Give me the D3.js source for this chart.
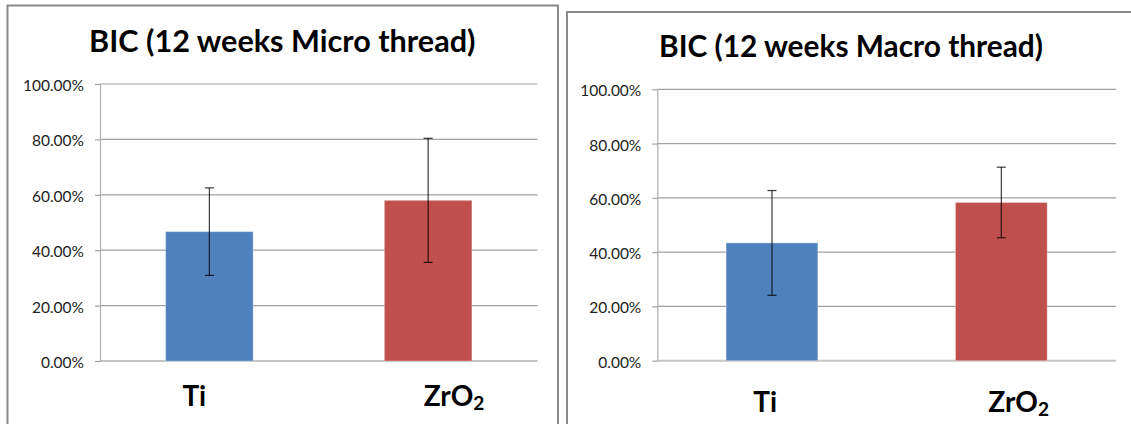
<!DOCTYPE html>
<html>
<head>
<meta charset="utf-8">
<script src="https://cdn.jsdelivr.net/npm/d3@7"></script>
<style>
  html, body { margin: 0; padding: 0; background: #ffffff; }
  svg { display: block; }
</style>
</head>
<body>
<svg id="chart" width="1131" height="424"></svg>
<script>
// ---- data ----
const categories = ["Ti", "ZrO2"];
const microTitle = "BIC (12 weeks Micro thread)";
const macroTitle = "BIC (12 weeks Macro thread)";
const microMeans = [0.467, 0.580];
const microErrors = [0.158, 0.224];
const macroMeans = [0.434, 0.583];
const macroErrors = [0.193, 0.130];
const yTicks = [0, 0.2, 0.4, 0.6, 0.8, 1.0];
const barColors = ["#4F81BD", "#C0504D"];

// ---- layout of the two chart boxes ----
const panels = [
  {
    title: microTitle, means: microMeans, errors: microErrors,
    frame: { x: 7.5, y: 5.5, w: 550.5, h: 460 },
    plot: { left: 100, right: 537.5, top: 84, bottom: 361 },
    titleBox: { cx: 282.3, baseline: 51.7, width: 386.6 },
    labelBaseline: 405.7, labelShift: [-27, -4.5]
  },
  {
    title: macroTitle, means: macroMeans, errors: macroErrors,
    frame: { x: 567, y: 12, w: 600, h: 460 },
    plot: { left: 657.3, right: 1116, top: 89.3, bottom: 360.7 },
    titleBox: { cx: 851, baseline: 57.3, width: 384 },
    labelBaseline: 411.7, labelShift: [-18.7, -13]
  }
];

const svg = d3.select("#chart");
const fontFamily = "Lato, 'Open Sans', 'DejaVu Sans', sans-serif";

// Scale a text element's font size so it spans a given width.
function fitWidth(sel, target) {
  const node = sel.node();
  const base = parseFloat(sel.attr("font-size"));
  const w = node.getComputedTextLength();
  if (w > 0) sel.attr("font-size", (base * target / w).toFixed(2));
}

panels.forEach(p => {
  const g = svg.append("g");

  // outer box
  g.append("rect")
    .attr("x", p.frame.x).attr("y", p.frame.y)
    .attr("width", p.frame.w).attr("height", p.frame.h)
    .attr("fill", "#ffffff")
    .attr("stroke", "#8a8a8a")
    .attr("stroke-width", 2);

  // title
  const t = g.append("text")
    .attr("x", p.titleBox.cx).attr("y", p.titleBox.baseline)
    .attr("text-anchor", "middle")
    .attr("font-family", fontFamily)
    .attr("font-weight", "bold")
    .attr("font-size", 28)
    .attr("fill", "#000")
    .text(p.title);
  fitWidth(t, p.titleBox.width);

  const x = d3.scaleBand()
    .domain(categories)
    .range([p.plot.left, p.plot.right])
    .paddingInner(0.6)
    .paddingOuter(0.3);

  const y = d3.scaleLinear()
    .domain([0, 1])
    .range([p.plot.bottom, p.plot.top]);

  // horizontal gridlines
  g.append("g").selectAll("line")
    .data(yTicks)
    .join("line")
    .attr("x1", p.plot.left).attr("x2", p.plot.right)
    .attr("y1", d => y(d)).attr("y2", d => y(d))
    .attr("stroke", d => d === 0 ? "#c4c4c4" : "#a0a0a0")
    .attr("stroke-width", d => d === 0 ? 2 : 1.2);

  // y axis
  const yAxis = g.append("g")
    .attr("transform", `translate(${p.plot.left},0)`)
    .call(d3.axisLeft(y).tickValues(yTicks).tickFormat(d3.format(".2%")).tickSize(5).tickSizeOuter(0).tickPadding(11));
  yAxis.select(".domain").attr("stroke", "#b0b0b0").attr("stroke-width", 1.2);
  yAxis.selectAll(".tick line").attr("stroke", "#a0a0a0").attr("stroke-width", 1.2);
  yAxis.selectAll(".tick text")
    .attr("font-family", fontFamily)
    .attr("font-size", 15.5)
    .attr("fill", "#222")
    .attr("dy", "0.42em");

  // bars
  g.append("g").selectAll("rect")
    .data(categories)
    .join("rect")
    .attr("x", d => x(d))
    .attr("width", x.bandwidth())
    .attr("y", (d, i) => y(p.means[i]))
    .attr("height", (d, i) => y(0) - y(p.means[i]))
    .attr("fill", (d, i) => barColors[i])
    .attr("stroke", "rgba(255,255,255,0.3)")
    .attr("stroke-width", 1);

  // error bars
  const eb = g.append("g").selectAll("g")
    .data(categories)
    .join("g")
    .attr("stroke", "#000")
    .attr("stroke-opacity", 0.78)
    .attr("stroke-width", 1.2);
  const cx = d => x(d) + x.bandwidth() / 2;
  eb.append("line")
    .attr("x1", cx).attr("x2", cx)
    .attr("y1", (d, i) => y(p.means[i] + p.errors[i]))
    .attr("y2", (d, i) => y(p.means[i] - p.errors[i]));
  [1, -1].forEach(s => {
    eb.append("line")
      .attr("x1", d => cx(d) - 4.5).attr("x2", d => cx(d) + 4.5)
      .attr("y1", (d, i) => y(p.means[i] + s * p.errors[i]))
      .attr("y2", (d, i) => y(p.means[i] + s * p.errors[i]));
  });

  // category labels (chemical subscript on trailing digit)
  const labels = g.append("g").selectAll("text")
    .data(categories)
    .join("text")
    .attr("x", (d, i) => cx(d) + p.labelShift[i])
    .attr("y", p.labelBaseline)
    .attr("font-family", fontFamily)
    .attr("font-weight", "bold")
    .attr("font-size", 28)
    .attr("fill", "#000");
  labels.each(function(d) {
    const m = d.match(/^(.*?)(\d+)$/);
    const el = d3.select(this);
    if (m) {
      el.append("tspan").text(m[1]);
      el.append("tspan").attr("font-size", 19).attr("dy", 4).text(m[2]);
    } else {
      el.text(d);
    }
  });
});
</script>
</body>
</html>
